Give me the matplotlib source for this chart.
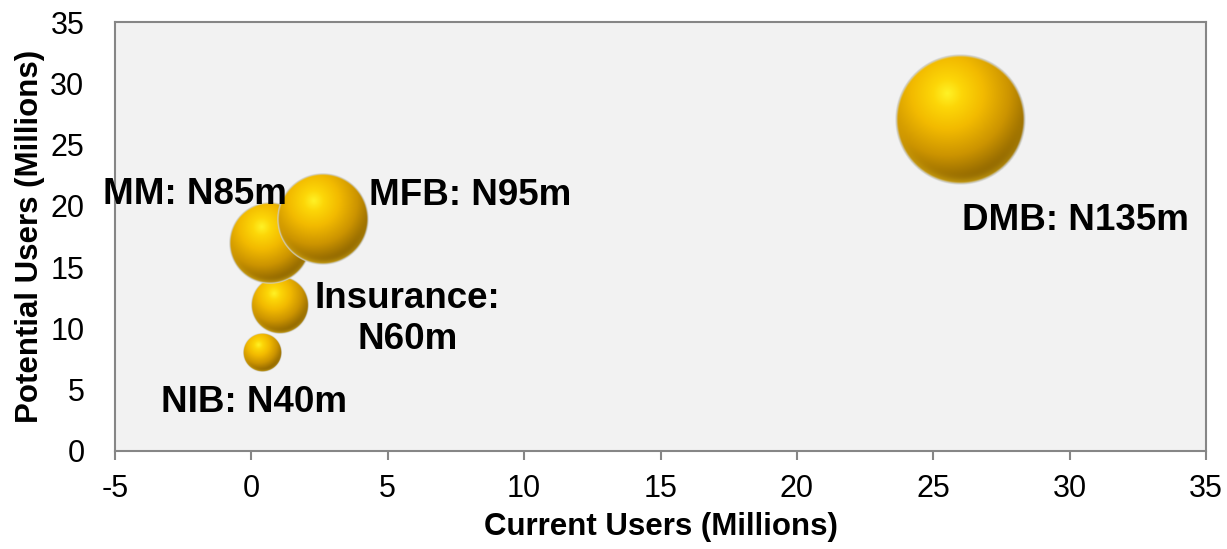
import matplotlib
matplotlib.use('Agg')
import matplotlib.pyplot as plt
import numpy as np

plt.rcParams['font.family'] = ['Liberation Sans', 'DejaVu Sans']

# segments: current users, potential users (millions) and funding size (N millions)
segments = ['NIB', 'Insurance', 'MM', 'MFB', 'DMB']
current_users = [0.4, 1.05, 0.68, 2.62, 26.0]
potential_users = [8.0, 11.9, 17.0, 18.9, 27.0]
funding = [40, 60, 85, 95, 135]
bubble_labels = ['NIB: N40m', 'Insurance:\nN60m', 'MM: N85m', 'MFB: N95m', 'DMB: N135m']

# label offsets from bubble centre, in points
label_offsets = [(-6, -36), (92, -10), (-54, 35), (106, 17), (83, -72)]

x_ticks = [-5, 0, 5, 10, 15, 20, 25, 30, 35]
y_ticks = [0, 5, 10, 15, 20, 25, 30, 35]

RADIUS_PT_PER_UNIT = 0.347  # bubble radius grows with funding (width-scaled)


def sphere_image(n=300):
    yy, xx = np.mgrid[1:-1:n * 1j, -1:1:n * 1j]
    r = np.sqrt(xx ** 2 + yy ** 2)

    # distance from the specular spot (upper left)
    d = np.sqrt((xx + 0.2) ** 2 + (yy - 0.4) ** 2)
    stops = [0.0, 0.22, 0.55, 0.95, 1.45]
    cols = np.array([
        [1.00, 0.95, 0.15],
        [0.99, 0.84, 0.03],
        [0.95, 0.73, 0.00],
        [0.80, 0.58, 0.00],
        [0.48, 0.34, 0.00],
    ])
    rgb = np.stack([np.interp(d, stops, cols[:, k]) for k in range(3)], axis=-1)

    # reflected light along the lower rim
    glow = np.exp(-((1 - r) / 0.10) ** 2) * np.clip(-yy, 0, 1)
    rgb = rgb * (1 - 0.6 * glow[..., None]) + np.array([0.96, 0.78, 0.10]) * 0.6 * glow[..., None]

    # thin silver outline
    ring = np.clip((r - 0.955) / 0.03, 0, 1)
    silver = np.array([0.82, 0.82, 0.80])
    rgb = rgb * (1 - ring[..., None]) + silver * ring[..., None]

    alpha = np.clip((1 - r) * n / 2.5, 0, 1)
    return np.dstack([rgb, alpha])


fig = plt.figure(figsize=(12.27, 5.49), dpi=100)
ax = fig.add_axes([115 / 1227, 1 - 451 / 549, (1206 - 115) / 1227, (451 - 22) / 549])
ax.set_facecolor('#f2f2f2')
ax.set_xlim(-5, 35)
ax.set_ylim(0, 35)

# data units per pixel, used to keep the spheres round
bbox = ax.get_window_extent()
ux = 40 / bbox.width
uy = 35 / bbox.height

sphere = sphere_image()
for i, (x, y, f) in enumerate(zip(current_users, potential_users, funding)):
    r_px = RADIUS_PT_PER_UNIT * f * fig.dpi / 72
    rx, ry = r_px * ux, r_px * uy
    ax.imshow(sphere, extent=[x - rx, x + rx, y - ry, y + ry], aspect='auto',
              interpolation='bilinear', zorder=2 + i)
    ax.annotate(bubble_labels[i], xy=(x, y), xytext=label_offsets[i],
                textcoords='offset points', ha='center', va='center',
                fontsize=26.5, fontweight='bold', zorder=10, annotation_clip=False)

ax.set_xlim(-5, 35)
ax.set_ylim(0, 35)
ax.set_xticks(x_ticks)
ax.set_yticks(y_ticks)
ax.set_xticklabels([str(t) for t in x_ticks])
ax.set_yticklabels([str(t) for t in y_ticks])
ax.tick_params(axis='x', direction='out', length=6.5, width=1.5, color='#868686',
               labelsize=22, pad=10)
ax.tick_params(axis='y', length=0, labelsize=22, pad=22)

for s in ax.spines.values():
    s.set_color('#868686')
    s.set_linewidth(1.5)

ax.set_xlabel('Current Users (Millions)', fontsize=22.5, fontweight='bold', labelpad=6)
ax.set_ylabel('Potential Users (Millions)', fontsize=22.5, fontweight='bold', labelpad=4)

fig.savefig('out.png', dpi=100)
